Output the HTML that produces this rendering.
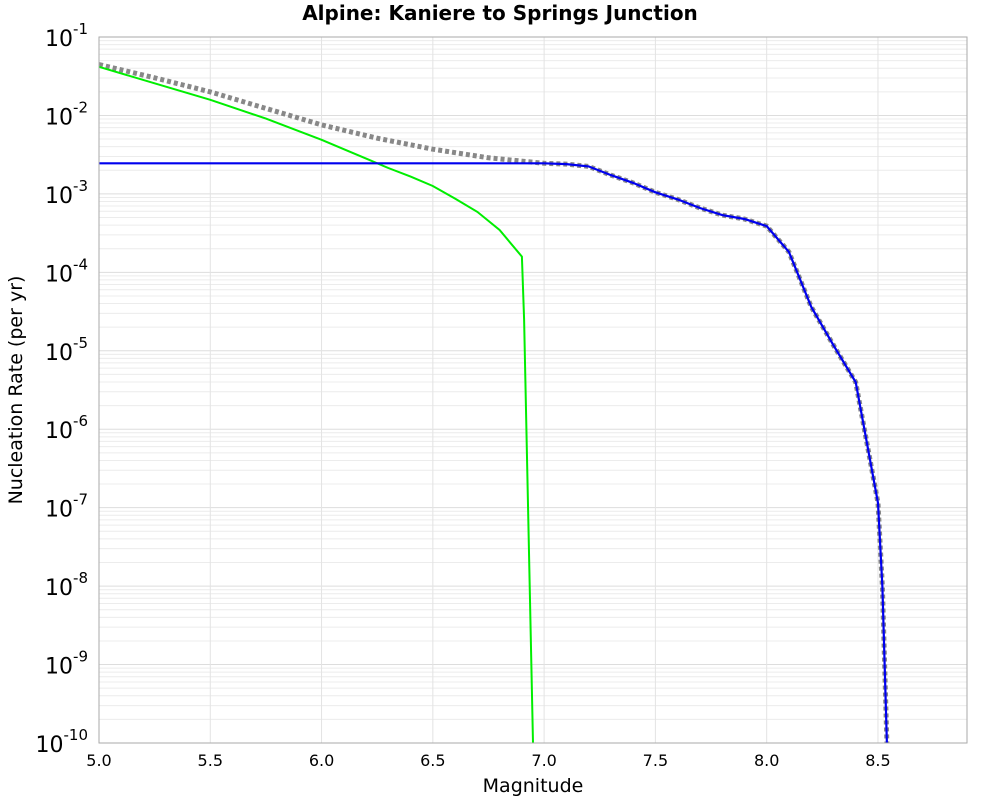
<!DOCTYPE html>
<html><head><meta charset="utf-8"><style>
body{margin:0;background:#fff;font-family:"Liberation Sans","DejaVu Sans",sans-serif}
svg text{font-family:"DejaVu Sans","Liberation Sans",sans-serif}
</style></head><body>
<svg id="chart" width="1000" height="800" xmlns="http://www.w3.org/2000/svg">
<rect width="1000" height="800" fill="#fff"/>
<text x="500" y="20" text-anchor="middle" font-size="20" font-weight="bold">Alpine: Kaniere to Springs Junction</text>
<g id="grid"></g>
<g id="series"></g>
<rect x="99" y="37" width="868" height="706" fill="none" stroke="#aaa" stroke-width="1"/>
<g id="axes"></g>
<text x="533" y="792" text-anchor="middle" font-size="19">Magnitude</text>
<text transform="translate(22,390) rotate(-90)" text-anchor="middle" font-size="19">Nucleation Rate (per yr)</text>
</svg>
<script>
const xTicks=[5.0,5.5,6.0,6.5,7.0,7.5,8.0,8.5];
const yExps=[-1,-2,-3,-4,-5,-6,-7,-8,-9,-10];
const greenMags=[5.0,5.25,5.5,5.75,6.0,6.1,6.2,6.3,6.4,6.5,6.6,6.7,6.8,6.9,6.91,6.95];
const greenLogs=[-1.38,-1.59,-1.80,-2.04,-2.31,-2.43,-2.55,-2.67,-2.78,-2.90,-3.06,-3.23,-3.46,-3.80,-4.6,-10];
const blueMags=[5.0,7.0,7.1,7.2,7.3,7.4,7.5,7.6,7.7,7.8,7.9,8.0,8.1,8.2,8.3,8.4,8.5,8.52,8.54];
const blueLogs=[-2.61,-2.61,-2.62,-2.65,-2.76,-2.86,-2.98,-3.07,-3.18,-3.27,-3.32,-3.41,-3.74,-4.44,-4.93,-5.40,-6.94,-8.01,-10];
const grayMags=[5.0,5.25,5.5,5.75,6.0,6.25,6.5,6.75,7.0,7.1,7.2,7.3,7.4,7.5,7.6,7.7,7.8,7.9,8.0,8.1,8.2,8.3,8.4,8.5,8.52,8.54];
const grayLogs=[-1.35,-1.52,-1.70,-1.91,-2.12,-2.29,-2.43,-2.54,-2.61,-2.62,-2.65,-2.76,-2.86,-2.98,-3.07,-3.18,-3.27,-3.32,-3.41,-3.74,-4.44,-4.93,-5.40,-6.94,-8.01,-10];
const NS="http://www.w3.org/2000/svg";
const X0=99,X1=967,Y0=37,Y1=743,XMIN=5.0,XMAX=8.9,LMAX=-1,LMIN=-10;
function xs(m){return X0+(m-XMIN)/(XMAX-XMIN)*(X1-X0);}
function ys(l){return Y0+(LMAX-l)/(LMAX-LMIN)*(Y1-Y0);}
function mk(tag,attrs,parent){const e=document.createElementNS(NS,tag);for(const k in attrs)e.setAttribute(k,attrs[k]);parent.appendChild(e);return e;}
const grid=document.getElementById('grid'),axes=document.getElementById('axes'),ser=document.getElementById('series');
for(let d=LMIN;d<LMAX;d++){for(let k=1;k<10;k++){const y=ys(d+Math.log10(k));
const l=mk('line',{x1:X0,x2:X1,y1:y,y2:y,stroke:k==1?'#ddd':'#ececec','stroke-width':1},grid);

}}
xTicks.forEach(t=>{const x=xs(t);
const l=mk('line',{x1:x,x2:x,y1:Y0,y2:Y1,stroke:'#e3e3e3','stroke-width':1},grid);


const tx=mk('text',{x:x,y:766,'text-anchor':'middle','font-size':16},axes);tx.textContent=t.toFixed(1);

});
yExps.forEach(e=>{const y=ys(e);
const tx=mk('text',{x:88,y:y+9,'text-anchor':'end','font-size':22},axes);


const b=mk('tspan',{},tx);b.textContent='10';
const s=mk('tspan',{dy:-12,'font-size':15},tx);s.textContent=String(e);});
function path(ms,ls){return ms.map((m,i)=>(i?'L':'M')+xs(m).toFixed(1)+','+ys(ls[i]).toFixed(1)).join(' ');}
const g=mk('path',{d:path(grayMags,grayLogs),fill:'none',stroke:'#888','stroke-width':5,'stroke-dasharray':'4,3'},ser);


const gr=mk('path',{d:path(greenMags,greenLogs),fill:'none',stroke:'#00ee00','stroke-width':2},ser);


const bl=mk('path',{d:path(blueMags,blueLogs),fill:'none',stroke:'#0000ee','stroke-width':2.2},ser);


</script>
</body></html>
